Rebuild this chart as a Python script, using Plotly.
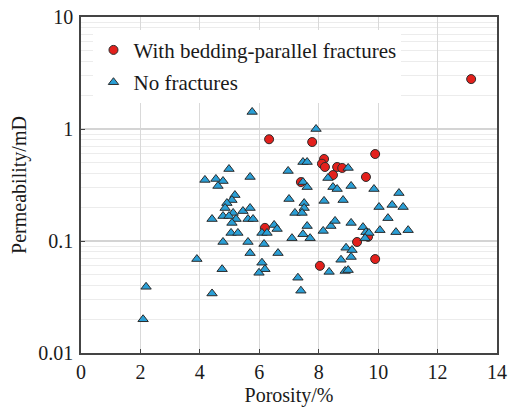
import plotly.graph_objects as go

# Samples with bedding-parallel fractures: porosity (%) and permeability (mD)
frac_porosity = [13.13, 6.33, 7.78, 8.18, 8.11, 8.21, 8.62, 8.79, 8.48, 9.90,
                 9.59, 7.40, 9.29, 9.90, 8.04, 6.19, 9.66]
frac_perm = [2.79, 0.81, 0.765, 0.54, 0.49, 0.458, 0.458, 0.449, 0.388, 0.598,
             0.373, 0.336, 0.098, 0.069, 0.060, 0.131, 0.109]

# Samples without fractures
nofrac_porosity = [2.09, 2.19, 3.90, 4.41, 4.75, 4.17, 4.54, 4.78, 4.61, 4.98,
                   5.69, 5.76, 5.18, 5.08, 4.91, 4.85, 5.45, 5.69, 5.12, 4.78,
                   4.98, 4.41, 5.22, 5.08, 5.62, 5.79, 5.05, 5.28, 4.78, 5.62,
                   6.16, 5.69, 6.63, 6.09, 6.19, 5.99, 6.09, 6.26, 6.50, 6.60,
                   6.97, 7.00, 7.91, 7.47, 7.61, 8.31, 7.47, 7.61, 8.48, 8.62,
                   9.09, 9.86, 10.70, 7.51, 8.18, 8.82, 10.03, 10.47, 10.84, 8.99,
                   7.51, 7.20, 7.44, 7.61, 7.47, 7.10, 7.71, 8.15, 8.41, 8.55,
                   9.09, 9.49, 9.59, 9.69, 9.56, 10.06, 10.60, 11.01, 10.33, 8.92,
                   9.12, 9.09, 8.75, 8.35, 8.89, 8.99, 7.30, 7.40]
nofrac_perm = [0.020, 0.039, 0.069, 0.034, 0.056, 0.351, 0.358, 0.343, 0.310, 0.439,
               0.373, 1.42, 0.257, 0.232, 0.218, 0.197, 0.185, 0.197, 0.178, 0.167,
               0.167, 0.157, 0.157, 0.145, 0.157, 0.157, 0.118, 0.118, 0.098, 0.098,
               0.094, 0.078, 0.078, 0.064, 0.056, 0.052, 0.118, 0.118, 0.139, 0.128,
               0.422, 0.237, 1.0, 0.507, 0.507, 0.365, 0.336, 0.303, 0.303, 0.291,
               0.310, 0.291, 0.268, 0.218, 0.228, 0.232, 0.201, 0.210, 0.201, 0.449,
               0.197, 0.178, 0.178, 0.136, 0.115, 0.106, 0.106, 0.123, 0.136, 0.151,
               0.145, 0.133, 0.120, 0.118, 0.106, 0.125, 0.120, 0.125, 0.160, 0.087,
               0.083, 0.072, 0.068, 0.053, 0.054, 0.055, 0.047, 0.036]

x_ticks = [0, 2, 4, 6, 8, 10, 12, 14]
y_ticks = [0.01, 0.1, 1, 10]
y_tick_text = ["0.01", "0.1", "1", "10"]

FONT = "Liberation Serif"
EDGE = "#2b2b2b"

fig = go.Figure()
fig.add_trace(go.Scatter(
    x=frac_porosity, y=frac_perm, mode="markers",
    name="With bedding-parallel fractures", legendgroup="a",
    marker=dict(symbol="circle", size=9, color="#e3201c",
                line=dict(color=EDGE, width=1)),
))
fig.add_trace(go.Scatter(
    x=nofrac_porosity, y=nofrac_perm, mode="markers",
    name="No fractures", legendgroup="b",
    marker=dict(symbol="triangle-up", size=9, color="#2a9fd6",
                line=dict(color=EDGE, width=1)),
))

fig.update_layout(
    width=508, height=407,
    margin=dict(l=81, r=11, t=17, b=54, autoexpand=False),
    paper_bgcolor="white", plot_bgcolor="white",
    font=dict(family=FONT, size=20, color="#1a1a1a"),
    showlegend=True,
    legend=dict(x=0.03, y=0.962, xanchor="left", yanchor="top",
                bgcolor="white", borderwidth=0, tracegroupgap=2,
                font=dict(family=FONT, size=21, color="#1a1a1a")),
    xaxis=dict(
        range=[0, 14], tickvals=x_ticks, ticks="inside", ticklen=4,
        tickcolor="#444", showline=True, linecolor="#444", linewidth=1.5,
        mirror=True, showgrid=True, gridcolor="#d9d9d9", gridwidth=1,
        zeroline=False, tickfont=dict(family=FONT, size=20),
        ticklabelstandoff=0, automargin=False,
        title=dict(text="Porosity/%", font=dict(family=FONT, size=20), standoff=8),
    ),
    yaxis=dict(
        type="log", range=[-2, 1], tickvals=y_ticks, ticktext=y_tick_text,
        ticks="inside", ticklen=4, tickcolor="#444",
        showline=True, linecolor="#444", linewidth=1.5, mirror=True,
        showgrid=True, gridcolor="#d4d4d4", gridwidth=1.5, zeroline=False,
        minor=dict(dtick="D1", showgrid=True, gridcolor="#ececec",
                   gridwidth=1, ticks=""),
        tickfont=dict(family=FONT, size=20),
        ticklabelstandoff=2, automargin=False,
        title=dict(text="Permeability/mD", font=dict(family=FONT, size=20), standoff=6),
    ),
)

fig.write_html("out.html")
